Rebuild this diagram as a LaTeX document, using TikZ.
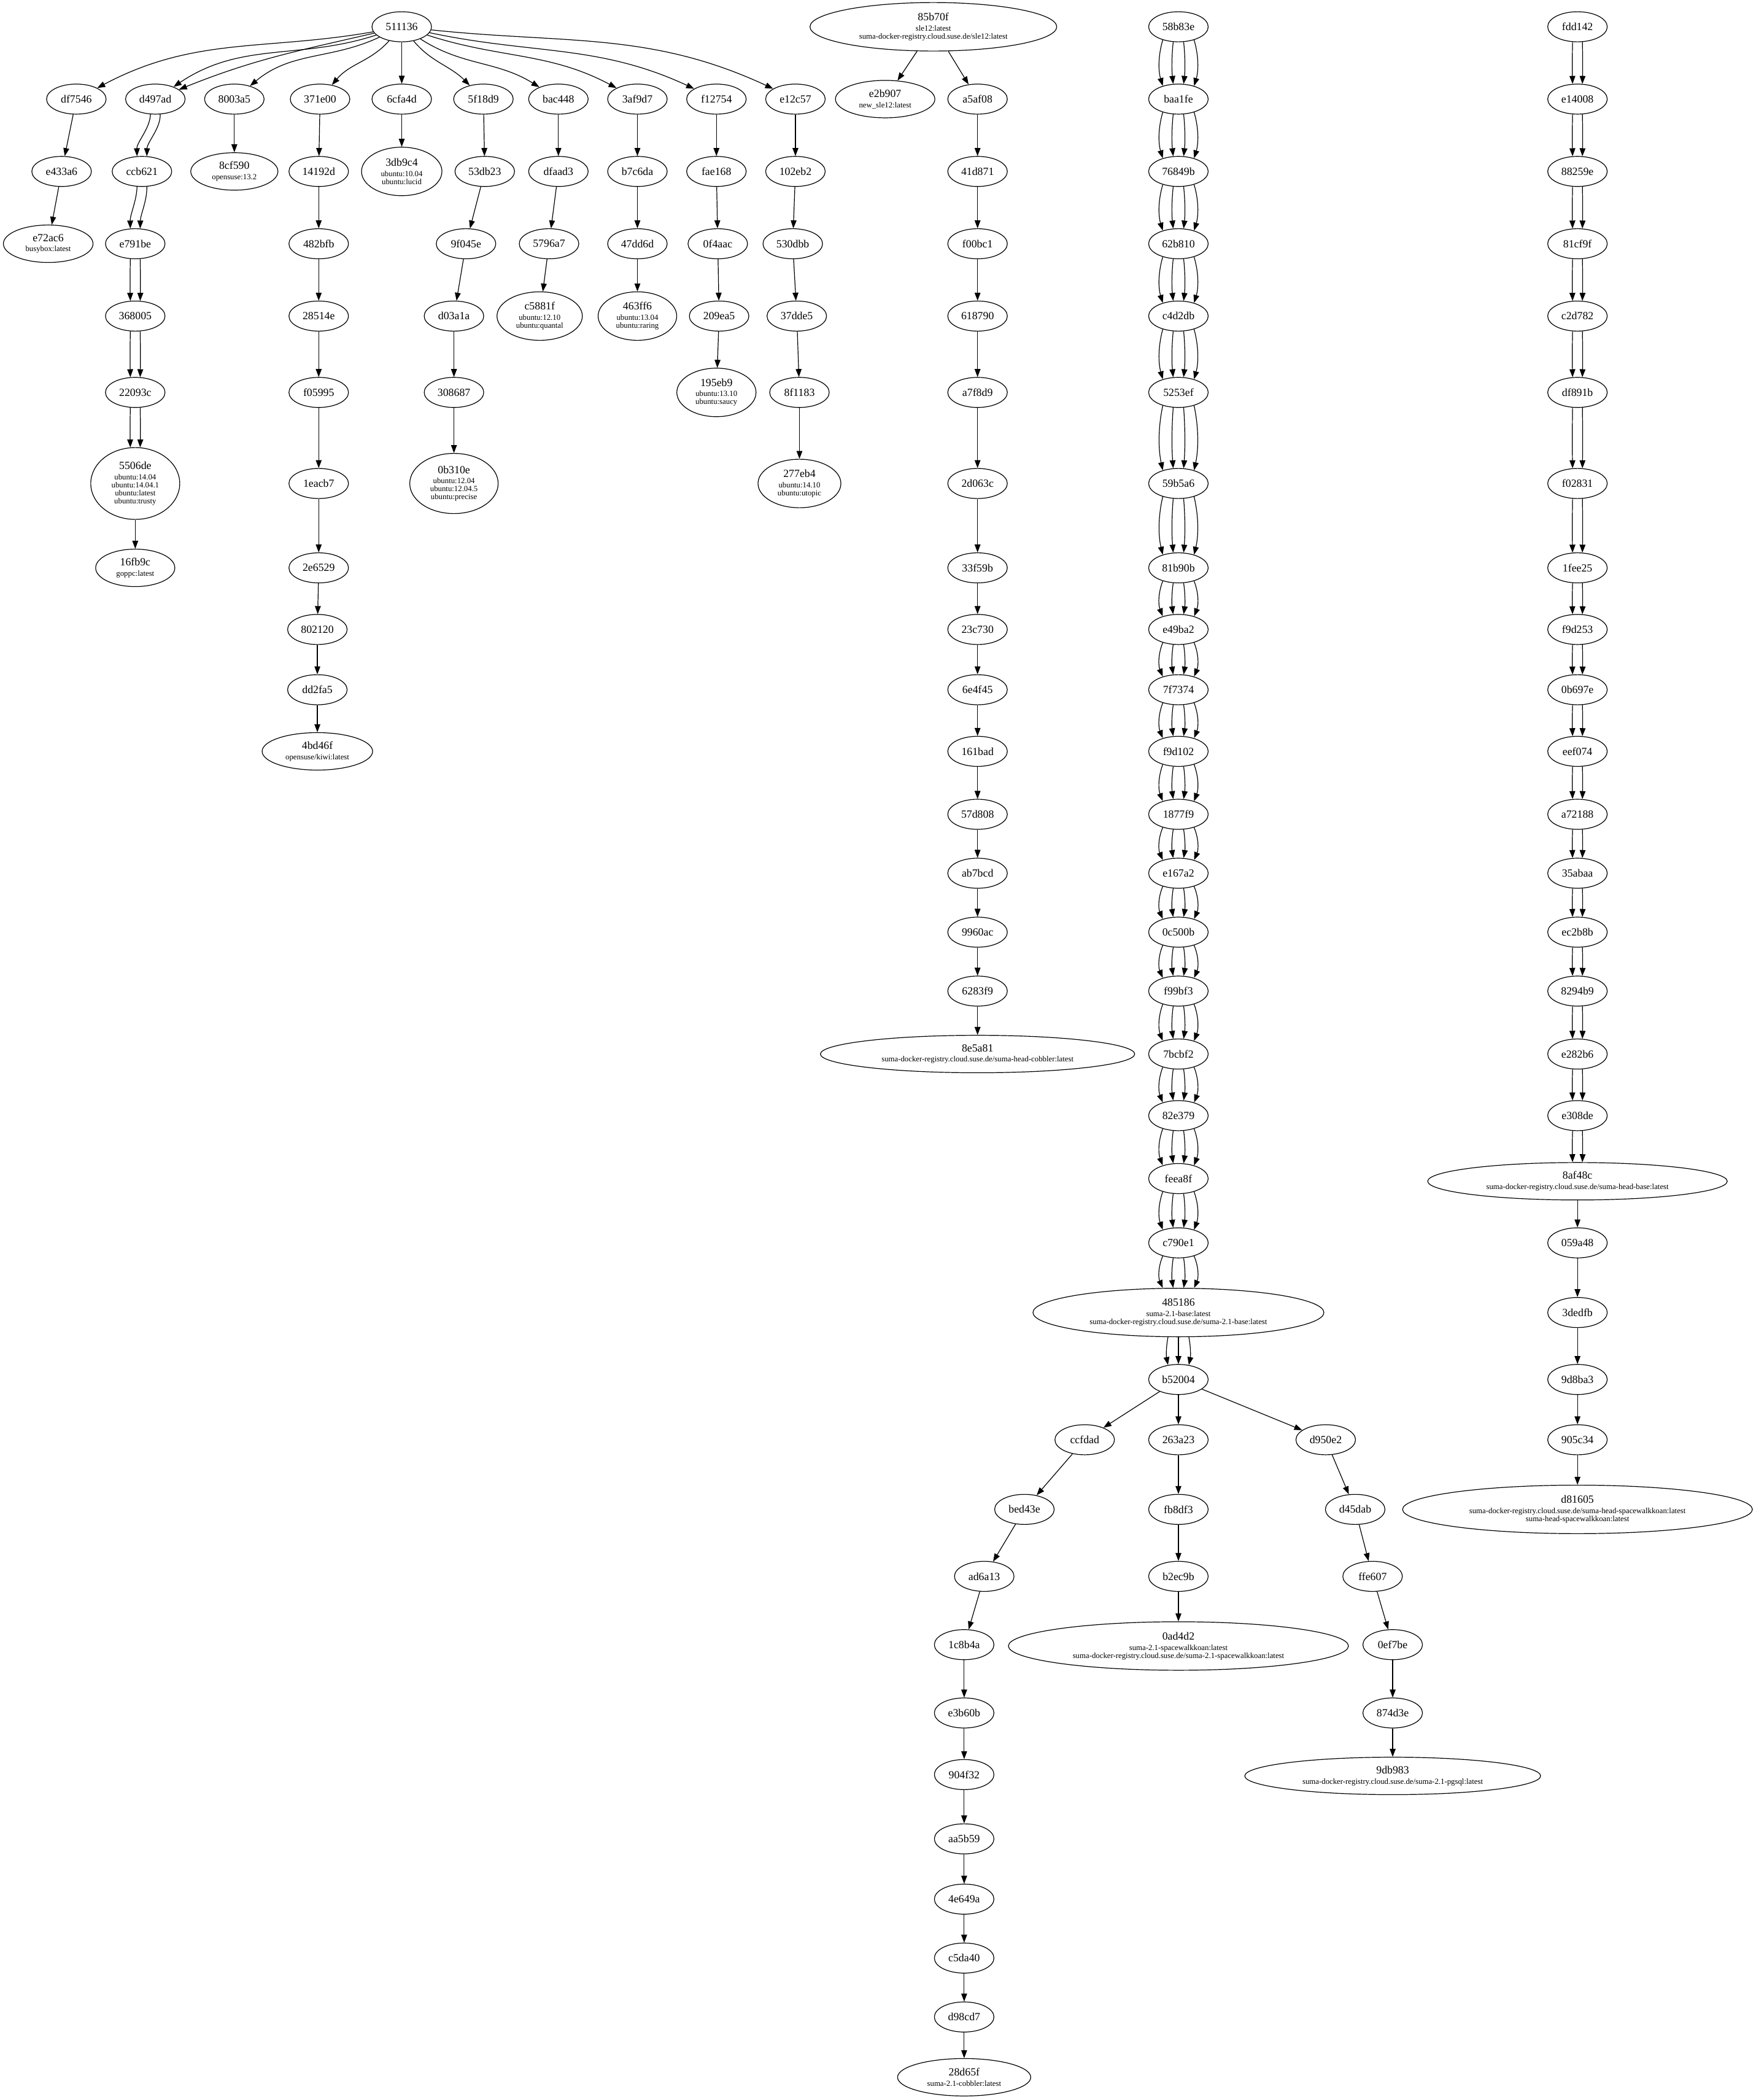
\documentclass[tikz,border=0pt]{standalone}
\usepackage{fontspec}
\setmainfont{Liberation Serif}
\usetikzlibrary{shapes.geometric,arrows.meta,calc}
\newcommand\mainf{\fontsize{17.8pt}{19pt}\selectfont}
\newcommand\subf{\fontsize{12.8pt}{13pt}\selectfont}
\newcommand\lb[2]{{\mainf #1}\\[3.7pt]#2}
% multi-edge: #1 source, #2 target, #3 x offset at the ends, #4 x offset of the controls
\newcommand\medge[4]{%
  \draw[edge] let \p1=(#1.center), \p2=(#1.east), \p3=(#1.south),
      \p4=(#2.center), \p5=(#2.east), \p6=(#2.north),
      \n1={(\y1-\y3)*sqrt(1-((#3)/(\x2-\x1))^2)},
      \n2={(\y6-\y4)*sqrt(1-((#3)/(\x5-\x4))^2)},
      \n3={(\y1-\n1-\y4-\n2)/3}
    in ({\x1+(#3)},{\y1-\n1}) .. controls ({\x1+(#4)},{\y1-\n1-\n3}) and ({\x4+(#4)},{\y4+\n2+\n3}) .. ({\x4+(#3)},{\y4+\n2});}
\newcommand\dedge[2]{\medge{#1}{#2}{-8pt}{-8.5pt}\medge{#1}{#2}{8pt}{8.5pt}}
\newcommand\tedge[2]{\medge{#1}{#2}{-17pt}{-20pt}\medge{#1}{#2}{0pt}{0pt}\medge{#1}{#2}{17pt}{20pt}}
\newcommand\qedge[2]{\medge{#1}{#2}{-25.5pt}{-33pt}\medge{#1}{#2}{-8.5pt}{-11pt}\medge{#1}{#2}{8.5pt}{11pt}\medge{#1}{#2}{25.5pt}{33pt}}
\begin{document}
\begin{tikzpicture}[x=2.1816pt,y=-2.1816pt,
  nd/.style={draw, ellipse, line width=1.2pt, inner sep=0pt, minimum width=97pt, minimum height=49pt, font=\mainf, align=center},
  lnd/.style={nd, font=\subf},
  edge/.style={line width=1.2pt, -{Triangle[length=13pt,width=9.5pt]}}]
\useasboundingbox[fill=white] (0,0) rectangle (1311,1568);
% ---------------- tree A
\node[nd] (n511136) at (300,20) {511136};
\node[nd] (ndf7546) at (57,74) {df7546};
\node[nd] (nd497ad) at (116,74) {d497ad};
\node[nd] (n8003a5) at (175,74) {8003a5};
\node[nd] (n371e00) at (239,74) {371e00};
\node[nd] (n6cfa4d) at (300,74) {6cfa4d};
\node[nd] (n5f18d9) at (361,74) {5f18d9};
\node[nd] (nbac448) at (417,74) {bac448};
\node[nd] (n3af9d7) at (476,74) {3af9d7};
\node[nd] (nf12754) at (535,74) {f12754};
\node[nd] (ne12c57) at (594,74) {e12c57};
\node[nd] (ne433a6) at (46,128) {e433a6};
\node[lnd,minimum width=146pt,minimum height=61pt] (ne72ac6) at (36,182) {\lb{e72ac6}{busybox:latest}};
\node[nd] (nccb621) at (106,128) {ccb621};
\node[nd] (ne791be) at (101,182) {e791be};
\node[nd] (n368005) at (101,236) {368005};
\node[nd] (n22093c) at (101,293) {22093c};
\node[lnd,minimum width=145pt,minimum height=117pt] (n5506de) at (101,361) {\lb{5506de}{ubuntu:14.04\\ubuntu:14.04.1\\ubuntu:latest\\ubuntu:trusty}};
\node[lnd,minimum width=129pt,minimum height=61pt] (n16fb9c) at (101,424) {\lb{16fb9c}{goppc:latest}};
\node[lnd,minimum width=142pt,minimum height=61pt] (n8cf590) at (175,128) {\lb{8cf590}{opensuse:13.2}};
\node[nd] (n14192d) at (238,128) {14192d};
\node[nd] (n482bfb) at (238,182) {482bfb};
\node[nd] (n28514e) at (238,236) {28514e};
\node[nd] (nf05995) at (238,293) {f05995};
\node[nd] (n1eacb7) at (238,361) {1eacb7};
\node[nd] (n2e6529) at (238,424) {2e6529};
\node[nd] (n802120) at (237,470) {802120};
\node[nd] (ndd2fa5) at (237,515) {dd2fa5};
\node[lnd,minimum width=180pt,minimum height=61pt] (n4bd46f) at (237,561) {\lb{4bd46f}{opensuse/kiwi:latest}};
\node[lnd,minimum width=131pt,minimum height=79pt] (n3db9c4) at (300,128) {\lb{3db9c4}{ubuntu:10.04\\ubuntu:lucid}};
\node[nd] (n53db23) at (362,128) {53db23};
\node[nd] (n9f045e) at (348,182) {9f045e};
\node[nd] (nd03a1a) at (339,236) {d03a1a};
\node[nd] (n308687) at (339,293) {308687};
\node[lnd,minimum width=144pt,minimum height=98pt] (n0b310e) at (339,361) {\lb{0b310e}{ubuntu:12.04\\ubuntu:12.04.5\\ubuntu:precise}};
\node[nd] (ndfaad3) at (417,128) {dfaad3};
\node[nd] (n5796a7) at (410,182) {5796a7};
\node[lnd,minimum width=139pt,minimum height=79pt] (nc5881f) at (403,236) {\lb{c5881f}{ubuntu:12.10\\ubuntu:quantal}};
\node[nd] (nb7c6da) at (476,128) {b7c6da};
\node[nd] (n47dd6d) at (476,182) {47dd6d};
\node[lnd,minimum width=128pt,minimum height=79pt] (n463ff6) at (476,236) {\lb{463ff6}{ubuntu:13.04\\ubuntu:raring}};
\node[nd] (nfae168) at (535,128) {fae168};
\node[nd] (n0f4aac) at (536,182) {0f4aac};
\node[nd] (n209ea5) at (537,236) {209ea5};
\node[lnd,minimum width=129pt,minimum height=79pt] (n195eb9) at (535,293) {\lb{195eb9}{ubuntu:13.10\\ubuntu:saucy}};
\node[nd] (n102eb2) at (594,128) {102eb2};
\node[nd] (n530dbb) at (592,182) {530dbb};
\node[nd] (n37dde5) at (595,236) {37dde5};
\node[nd] (n8f1183) at (597,293) {8f1183};
\node[lnd,minimum width=135pt,minimum height=79pt] (n277eb4) at (597,361) {\lb{277eb4}{ubuntu:14.10\\ubuntu:utopic}};
% ---------------- tree B
\node[lnd,minimum width=402pt,minimum height=79pt] (n85b70f) at (697,20) {\lb{85b70f}{sle12:latest\\suma-docker-registry.cloud.suse.de/sle12:latest}};
\node[lnd,minimum width=162pt,minimum height=61pt] (ne2b907) at (661,74) {\lb{e2b907}{new\_sle12:latest}};
\node[nd] (na5af08) at (730,74) {a5af08};
\node[nd] (n41d871) at (730,128) {41d871};
\node[nd] (nf00bc1) at (730,182) {f00bc1};
\node[nd] (n618790) at (730,236) {618790};
\node[nd] (na7f8d9) at (730,293) {a7f8d9};
\node[nd] (n2d063c) at (730,361) {2d063c};
\node[nd] (n33f59b) at (730,424) {33f59b};
\node[nd] (n23c730) at (730,470) {23c730};
\node[nd] (n6e4f45) at (730,515) {6e4f45};
\node[nd] (n161bad) at (730,561) {161bad};
\node[nd] (n57d808) at (730,608) {57d808};
\node[nd] (nab7bcd) at (730,652) {ab7bcd};
\node[nd] (n9960ac) at (730,696) {9960ac};
\node[nd] (n6283f9) at (730,740) {6283f9};
\node[lnd,minimum width=512pt,minimum height=61pt] (n8e5a81) at (730,787) {\lb{8e5a81}{suma-docker-registry.cloud.suse.de/suma-head-cobbler:latest}};
% ---------------- tree C
\node[nd] (n58b83e) at (880,20) {58b83e};
\node[nd] (nbaa1fe) at (880,74) {baa1fe};
\node[nd] (n76849b) at (880,128) {76849b};
\node[nd] (n62b810) at (880,182) {62b810};
\node[nd] (nc4d2db) at (880,236) {c4d2db};
\node[nd] (n5253ef) at (880,293) {5253ef};
\node[nd] (n59b5a6) at (880,361) {59b5a6};
\node[nd] (n81b90b) at (880,424) {81b90b};
\node[nd] (ne49ba2) at (880,470) {e49ba2};
\node[nd] (n7f7374) at (880,515) {7f7374};
\node[nd] (nf9d102) at (880,561) {f9d102};
\node[nd] (n1877f9) at (880,608) {1877f9};
\node[nd] (ne167a2) at (880,652) {e167a2};
\node[nd] (n0c500b) at (880,696) {0c500b};
\node[nd] (nf99bf3) at (880,740) {f99bf3};
\node[nd] (n7bcbf2) at (880,787) {7bcbf2};
\node[nd] (n82e379) at (880,833) {82e379};
\node[nd] (nfeea8f) at (880,880) {feea8f};
\node[nd] (nc790e1) at (880,928) {c790e1};
\node[lnd,minimum width=474pt,minimum height=79pt] (n485186) at (880,980) {\lb{485186}{suma-2.1-base:latest\\suma-docker-registry.cloud.suse.de/suma-2.1-base:latest}};
\node[nd] (nb52004) at (880,1030) {b52004};
\node[nd] (nccfdad) at (810,1075) {ccfdad};
\node[nd] (n263a23) at (880,1075) {263a23};
\node[nd] (nd950e2) at (990,1075) {d950e2};
\node[nd] (nbed43e) at (765,1127) {bed43e};
\node[nd] (nad6a13) at (735,1177) {ad6a13};
\node[nd] (n1c8b4a) at (720,1228) {1c8b4a};
\node[nd] (ne3b60b) at (720,1279) {e3b60b};
\node[nd] (n904f32) at (720,1325) {904f32};
\node[nd] (naa5b59) at (720,1373) {aa5b59};
\node[nd] (n4e649a) at (720,1418) {4e649a};
\node[nd] (nc5da40) at (720,1462) {c5da40};
\node[nd] (nd98cd7) at (720,1506) {d98cd7};
\node[lnd,minimum width=217pt,minimum height=61pt] (n28d65f) at (720,1551) {\lb{28d65f}{suma-2.1-cobbler:latest}};
\node[nd] (nfb8df3) at (880,1127) {fb8df3};
\node[nd] (nb2ec9b) at (880,1177) {b2ec9b};
\node[lnd,minimum width=554pt,minimum height=79pt] (n0ad4d2) at (880,1229) {\lb{0ad4d2}{suma-2.1-spacewalkkoan:latest\\suma-docker-registry.cloud.suse.de/suma-2.1-spacewalkkoan:latest}};
\node[nd] (nd45dab) at (1012,1127) {d45dab};
\node[nd] (nffe607) at (1025,1177) {ffe607};
\node[nd] (n0ef7be) at (1040,1228) {0ef7be};
\node[nd] (n874d3e) at (1040,1279) {874d3e};
\node[lnd,minimum width=482pt,minimum height=61pt] (n9db983) at (1040,1326) {\lb{9db983}{suma-docker-registry.cloud.suse.de/suma-2.1-pgsql:latest}};
% ---------------- tree D
\node[nd] (nfdd142) at (1178,20) {fdd142};
\node[nd] (ne14008) at (1178,74) {e14008};
\node[nd] (n88259e) at (1178,128) {88259e};
\node[nd] (n81cf9f) at (1178,182) {81cf9f};
\node[nd] (nc2d782) at (1178,236) {c2d782};
\node[nd] (ndf891b) at (1178,293) {df891b};
\node[nd] (nf02831) at (1178,361) {f02831};
\node[nd] (n1fee25) at (1178,424) {1fee25};
\node[nd] (nf9d253) at (1178,470) {f9d253};
\node[nd] (n0b697e) at (1178,515) {0b697e};
\node[nd] (neef074) at (1178,561) {eef074};
\node[nd] (na72188) at (1178,608) {a72188};
\node[nd] (n35abaa) at (1178,652) {35abaa};
\node[nd] (nec2b8b) at (1178,696) {ec2b8b};
\node[nd] (n8294b9) at (1178,740) {8294b9};
\node[nd] (ne282b6) at (1178,787) {e282b6};
\node[nd] (ne308de) at (1178,833) {e308de};
\node[lnd,minimum width=488pt,minimum height=61pt] (n8af48c) at (1178,882) {\lb{8af48c}{suma-docker-registry.cloud.suse.de/suma-head-base:latest}};
\node[nd] (n059a48) at (1178,928) {059a48};
\node[nd] (n3dedfb) at (1178,980) {3dedfb};
\node[nd] (n9d8ba3) at (1178,1030) {9d8ba3};
\node[nd] (n905c34) at (1178,1075) {905c34};
\node[lnd,minimum width=570pt,minimum height=79pt] (nd81605) at (1178,1127) {\lb{d81605}{suma-docker-registry.cloud.suse.de/suma-head-spacewalkkoan:latest\\suma-head-spacewalkkoan:latest}};
% ================= edges
% root fan
\draw[edge] (n511136) to[out=190,in=28] (ndf7546);
\draw[edge] (n511136) to[out=193,in=22] (nd497ad);
\draw[edge] (n511136) to[out=198,in=34] (nd497ad);
\draw[edge] (n511136) to[out=205,in=40] (n8003a5);
\draw[edge] (n511136) to[out=228,in=50] (n371e00);
\draw[edge] (n511136) -- (n6cfa4d);
\draw[edge] (n511136) to[out=-50,in=135] (n5f18d9);
\draw[edge] (n511136) to[out=-33,in=148] (nbac448);
\draw[edge] (n511136) to[out=-18,in=152] (n3af9d7);
\draw[edge] (n511136) to[out=-12,in=155] (nf12754);
\draw[edge] (n511136) to[out=-6,in=155] (ne12c57);
% single straight edges
\foreach \a/\b in {ndf7546/ne433a6, ne433a6/ne72ac6, n5506de/n16fb9c, n8003a5/n8cf590,
  n371e00/n14192d, n14192d/n482bfb, n482bfb/n28514e, n28514e/nf05995, nf05995/n1eacb7,
  n1eacb7/n2e6529, n2e6529/n802120, n802120/ndd2fa5, ndd2fa5/n4bd46f, n6cfa4d/n3db9c4,
  n5f18d9/n53db23, n53db23/n9f045e, n9f045e/nd03a1a, nd03a1a/n308687, n308687/n0b310e,
  nbac448/ndfaad3, ndfaad3/n5796a7, n5796a7/nc5881f, n3af9d7/nb7c6da, nb7c6da/n47dd6d,
  n47dd6d/n463ff6, nf12754/nfae168, nfae168/n0f4aac, n0f4aac/n209ea5, n209ea5/n195eb9,
  ne12c57/n102eb2, n102eb2/n530dbb, n530dbb/n37dde5, n37dde5/n8f1183, n8f1183/n277eb4,
  n85b70f/ne2b907, n85b70f/na5af08, na5af08/n41d871, n41d871/nf00bc1, nf00bc1/n618790,
  n618790/na7f8d9, na7f8d9/n2d063c, n2d063c/n33f59b, n33f59b/n23c730, n23c730/n6e4f45,
  n6e4f45/n161bad, n161bad/n57d808, n57d808/nab7bcd, nab7bcd/n9960ac, n9960ac/n6283f9,
  n6283f9/n8e5a81,
  nb52004/nccfdad, nb52004/n263a23, nb52004/nd950e2, nccfdad/nbed43e, nbed43e/nad6a13,
  nad6a13/n1c8b4a, n1c8b4a/ne3b60b, ne3b60b/n904f32, n904f32/naa5b59, naa5b59/n4e649a,
  n4e649a/nc5da40, nc5da40/nd98cd7, nd98cd7/n28d65f, n263a23/nfb8df3, nfb8df3/nb2ec9b,
  nb2ec9b/n0ad4d2, nd950e2/nd45dab, nd45dab/nffe607, nffe607/n0ef7be, n0ef7be/n874d3e,
  n874d3e/n9db983,
  n8af48c/n059a48, n059a48/n3dedfb, n3dedfb/n9d8ba3, n9d8ba3/n905c34, n905c34/nd81605}
  {\draw[edge] (\a) -- (\b);}
% double edges
\foreach \a/\b in {nd497ad/nccb621, nccb621/ne791be, ne791be/n368005, n368005/n22093c, n22093c/n5506de,
  nfdd142/ne14008, ne14008/n88259e, n88259e/n81cf9f, n81cf9f/nc2d782, nc2d782/ndf891b,
  ndf891b/nf02831, nf02831/n1fee25, n1fee25/nf9d253, nf9d253/n0b697e, n0b697e/neef074,
  neef074/na72188, na72188/n35abaa, n35abaa/nec2b8b, nec2b8b/n8294b9, n8294b9/ne282b6,
  ne282b6/ne308de, ne308de/n8af48c}
  {\dedge{\a}{\b}}
% quadruple edges
\foreach \a/\b in {n58b83e/nbaa1fe, nbaa1fe/n76849b, n76849b/n62b810, n62b810/nc4d2db,
  nc4d2db/n5253ef, n5253ef/n59b5a6, n59b5a6/n81b90b, n81b90b/ne49ba2, ne49ba2/n7f7374,
  n7f7374/nf9d102, nf9d102/n1877f9, n1877f9/ne167a2, ne167a2/n0c500b, n0c500b/nf99bf3,
  nf99bf3/n7bcbf2, n7bcbf2/n82e379, n82e379/nfeea8f, nfeea8f/nc790e1, nc790e1/n485186}
  {\qedge{\a}{\b}}
% triple edge
\tedge{n485186}{nb52004}
\end{tikzpicture}
\end{document}
